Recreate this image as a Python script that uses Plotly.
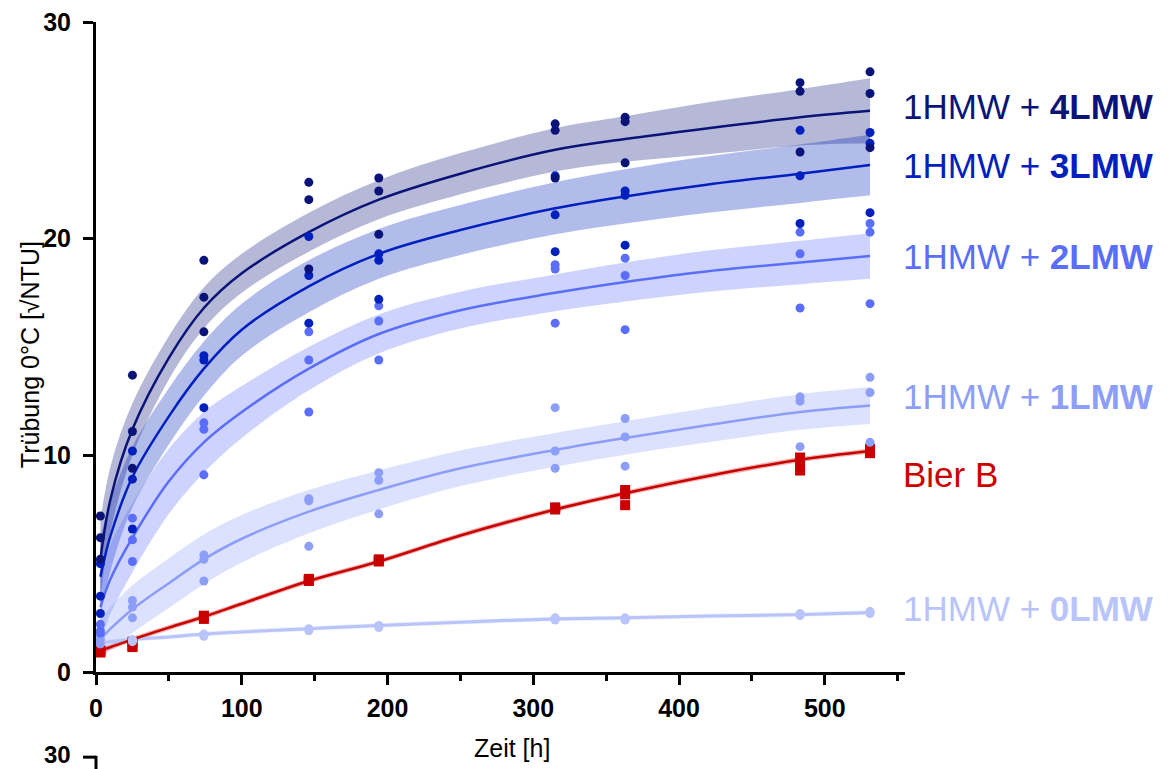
import plotly.graph_objects as go

# ---------------- data ----------------
t_meas = [3, 25, 74, 146, 194, 315, 363, 483, 531]

# replicate measurements per time point
pts_4 = [[7.2, 6.2, 5.2], [13.7, 11.1, 9.4], [19.0, 17.3, 15.7], [22.6, 21.8, 18.6],
         [22.8, 22.2, 20.2], [25.3, 25.0, 22.8], [25.6, 25.4, 23.5], [27.2, 26.8, 24.0],
         [27.7, 26.7, 24.2]]
pts_3 = [[5.0, 3.5, 2.7], [10.2, 8.9, 6.6], [14.6, 14.4, 12.2], [20.1, 18.3, 16.1],
         [19.3, 19.0, 17.2], [22.9, 21.1, 19.4], [22.2, 22.0, 19.7], [25.0, 22.9, 20.7],
         [24.9, 24.4, 21.2]]
pts_2 = [[2.2, 1.9, 1.8], [7.1, 6.1, 5.1], [11.5, 11.2, 9.1], [15.7, 14.4, 12.0],
         [16.9, 16.2, 14.4], [18.8, 18.6, 16.1], [19.1, 18.3, 15.8], [20.3, 19.3, 16.8],
         [20.7, 20.3, 17.0]]
pts_1 = [[1.7, 1.5, 1.3], [3.3, 3.0, 2.5], [5.4, 5.2, 4.2], [8.0, 7.9, 5.8],
         [9.2, 8.85, 7.3], [12.2, 10.2, 9.4], [11.7, 10.85, 9.5], [12.7, 12.5, 10.4],
         [13.6, 12.9, 10.6]]
pts_0 = [[1.45, 1.35, 1.3], [1.5, 1.45, 1.4], [1.75, 1.7, 1.65], [2.0, 1.95, 1.9],
         [2.15, 2.1, 2.05], [2.5, 2.45, 2.4], [2.45, 2.4, 2.5], [2.6, 2.65, 2.7],
         [2.75, 2.7, 2.8]]
pts_b = [[1.0, 0.95, 0.9], [1.2, 1.15, 1.4], [2.6, 2.55, 2.45], [4.3, 4.25, 4.2],
         [5.2, 5.15, 5.1], [7.6, 7.55, 7.5], [8.4, 8.2, 7.7], [9.9, 9.6, 9.3],
         [10.3, 10.2, 10.1]]

# fitted curves and confidence half-widths read at these times
t_fit = [3, 10, 25, 50, 74, 100, 146, 194, 250, 315, 363, 420, 483, 531]
fit_4 = [5.2, 8.0, 11.2, 14.5, 16.8, 18.4, 20.3, 21.8, 23.0, 24.1, 24.6, 25.1, 25.6, 25.9]
ci_4 = [1.8, 1.5, 1.2, 1.0, 0.95, 0.9, 0.9, 0.9, 0.95, 1.0, 1.05, 1.2, 1.3, 1.5]
fit_3 = [4.4, 6.3, 9.0, 11.8, 14.0, 15.8, 17.8, 19.3, 20.4, 21.4, 21.95, 22.5, 23.0, 23.4]
ci_3 = [1.8, 1.6, 1.4, 1.3, 1.25, 1.2, 1.2, 1.15, 1.15, 1.2, 1.25, 1.3, 1.35, 1.4]
fit_2 = [3.0, 4.3, 6.2, 8.8, 10.6, 12.0, 14.0, 15.6, 16.7, 17.5, 18.0, 18.5, 18.9, 19.2]
ci_2 = [1.6, 1.6, 1.6, 1.5, 1.4, 1.2, 1.0, 0.9, 0.85, 0.85, 0.9, 0.95, 1.0, 1.05]
fit_1 = [1.5, 2.0, 2.9, 4.1, 5.2, 6.15, 7.4, 8.4, 9.4, 10.25, 10.8, 11.4, 12.0, 12.3]
ci_1 = [0.9, 1.0, 1.1, 1.15, 1.15, 1.1, 1.0, 0.9, 0.82, 0.78, 0.77, 0.8, 0.82, 0.85]
fit_0 = [1.35, 1.4, 1.5, 1.62, 1.75, 1.85, 2.0, 2.15, 2.3, 2.45, 2.5, 2.58, 2.65, 2.75]
ci_0 = [0.1] * 14
fit_b = [1.0, 1.15, 1.5, 2.05, 2.55, 3.15, 4.2, 5.1, 6.3, 7.5, 8.25, 9.05, 9.8, 10.2]
ci_b = [0.12] * 14

series_names = ["1HMW + <b>4LMW</b>", "1HMW + <b>3LMW</b>", "1HMW + <b>2LMW</b>",
                "1HMW + <b>1LMW</b>", "Bier B", "1HMW + <b>0LMW</b>"]
label_y = [26.1, 23.4, 19.2, 12.7, 9.1, 2.95]
x_ticks = [0, 100, 200, 300, 400, 500]
x_minor = [50, 150, 250, 350, 450, 550]
y_ticks = [0, 10, 20, 30]
x_title = "Zeit [h]"
y_title = "Trübung 0°C [√NTU]"

# ---------------- styles ----------------
rgb = {
    "4": (10, 20, 120),
    "3": (0, 32, 190),
    "2": (90, 110, 250),
    "1": (140, 158, 248),
    "0": (185, 196, 250),
    "b": (200, 0, 0),
}


def col(k, a=1.0):
    r, g, b = rgb[k]
    return f"rgba({r},{g},{b},{a})"


series = [
    ("4", fit_4, ci_4, pts_4, 0.3),
    ("3", fit_3, ci_3, pts_3, 0.3),
    ("2", fit_2, ci_2, pts_2, 0.3),
    ("1", fit_1, ci_1, pts_1, 0.3),
    ("0", fit_0, ci_0, pts_0, 0.35),
    ("b", fit_b, ci_b, pts_b, 0.3),
]

FONT = "Liberation Sans, Arial, sans-serif"
fig = go.Figure()

# confidence bands
for k, fit, ci, pts, alpha in series:
    lo = [f - c for f, c in zip(fit, ci)]
    hi = [f + c for f, c in zip(fit, ci)]
    fig.add_trace(go.Scatter(x=t_fit, y=lo, mode="lines", line=dict(width=0, shape="spline"),
                             hoverinfo="skip", showlegend=False))
    fig.add_trace(go.Scatter(x=t_fit, y=hi, mode="lines", line=dict(width=0, shape="spline"),
                             fill="tonexty", fillcolor=col(k, alpha), hoverinfo="skip",
                             showlegend=False))

# fitted lines
for k, fit, ci, pts, alpha in series:
    fig.add_trace(go.Scatter(x=t_fit, y=fit, mode="lines",
                             line=dict(color=col(k), width=3 if k == "0" else 2.5, shape="spline"),
                             showlegend=False))

# data points (lighter first so dark ones sit on top)
for k, fit, ci, pts, alpha in reversed(series):
    xs, ys = [], []
    for t, reps in zip(t_meas, pts):
        for v in reps:
            xs.append(t)
            ys.append(v)
    fig.add_trace(go.Scatter(
        x=xs, y=ys, mode="markers", cliponaxis=False,
        marker=dict(color=col(k), size=10 if k == "b" else 9,
                    symbol="square" if k == "b" else "circle", line=dict(width=0)),
        showlegend=False))

# right-hand labels
label_keys = ["4", "3", "2", "1", "b", "0"]
for name, yv, k in zip(series_names, label_y, label_keys):
    fig.add_annotation(x=555, y=yv, xref="x", yref="y", text=name, showarrow=False,
                       xanchor="left", yanchor="middle", xshift=-4,
                       font=dict(family=FONT, size=35, color=col(k)))

# axis titles
fig.add_annotation(x=0.514, y=-0.117, xref="paper", yref="paper", text=x_title,
                   showarrow=False, xanchor="center", yanchor="middle",
                   font=dict(family=FONT, size=25, color="black"))
fig.add_annotation(x=-0.0816, y=0.489, xref="paper", yref="paper", text=y_title,
                   showarrow=False, xanchor="center", yanchor="middle", textangle=-90,
                   font=dict(family=FONT, size=25, color="black"))

# fragment of the next panel visible at the bottom
fig.add_annotation(x=-0.029, y=-0.127, xref="paper", yref="paper", text="<b>30</b>",
                   showarrow=False, xanchor="right", yanchor="middle",
                   font=dict(family=FONT, size=24, color="black"))
fig.add_shape(type="line", xref="paper", yref="paper", x0=-0.016, x1=0, y0=-0.131, y1=-0.131,
              line=dict(color="black", width=3))
fig.add_shape(type="line", xref="paper", yref="paper", x0=0, x1=0, y0=-0.129, y1=-0.17,
              line=dict(color="black", width=3))

tick_font = dict(family=FONT, size=25, color="black", weight="bold")
fig.update_layout(
    width=1166, height=761,
    margin=dict(l=88, r=269, t=14, b=97, autoexpand=False),
    paper_bgcolor="white", plot_bgcolor="white",
    showlegend=False,
    font=dict(family=FONT, color="black"),
    xaxis=dict(range=[0, 555], tickvals=x_ticks,
               ticks="outside", ticklen=10, tickwidth=3, tickcolor="black",
               showline=True, linewidth=3, linecolor="black", showgrid=False, zeroline=False,
               minor=dict(tickvals=x_minor, ticks="outside", ticklen=6,
                          tickwidth=3, tickcolor="black", showgrid=False),
               tickfont=tick_font, ticklabelstandoff=2, ticklabeloverflow="allow"),
    yaxis=dict(range=[0, 30.001], tickvals=y_ticks,
               ticks="outside", ticklen=10, tickwidth=3, tickcolor="black",
               showline=True, linewidth=3, linecolor="black", showgrid=False, zeroline=False,
               tickfont=tick_font, ticklabelstandoff=7, ticklabeloverflow="allow"),
)

fig.write_html("out.html")
